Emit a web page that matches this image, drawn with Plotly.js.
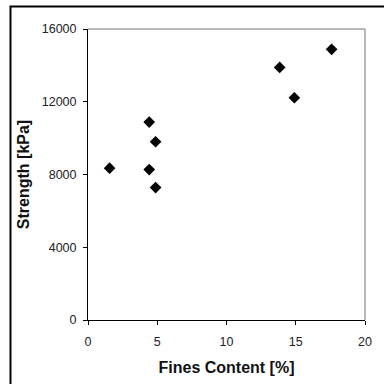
<!DOCTYPE html>
<html>
<head>
<meta charset="utf-8">
<script src="https://cdn.plot.ly/plotly-3.0.1.min.js"></script>
<style>html,body{margin:0;padding:0;background:#fff;}#chart{width:384px;height:384px;}</style>
</head>
<body>
<div id="chart"></div>
<script>
var finesContent = [1.56, 4.42, 4.88, 4.42, 4.88, 13.84, 14.9, 17.59];
var strength = [8350, 10880, 9800, 8270, 7280, 13890, 12220, 14880];
var xTickVals = [0, 5, 10, 15, 20];
var yTickVals = [0, 4000, 8000, 12000, 16000];

var trace = {
  x: finesContent,
  y: strength,
  type: 'scatter',
  mode: 'markers',
  marker: {symbol: 'diamond', size: 9, color: '#000'},
  hoverinfo: 'none'
};

var titleFont = {size: 16, color: '#111', family: 'Liberation Sans, Arial, sans-serif', weight: 'bold'};

var layout = {
  width: 384, height: 384,
  margin: {l: 88, r: 19, t: 29, b: 64},
  paper_bgcolor: '#fff', plot_bgcolor: '#fff',
  showlegend: false,
  font: {family: 'Liberation Sans, Arial, sans-serif', size: 12.5, color: '#222'},
  xaxis: {
    range: [0, 20], tickvals: xTickVals, ticktext: xTickVals.map(String),
    showgrid: false, zeroline: false, showline: true, linecolor: '#000', linewidth: 1,
    ticks: 'outside', ticklen: 4, tickcolor: '#000', ticklabelstandoff: 6,
    title: {text: 'Fines Content [%]', font: titleFont, standoff: 13}
  },
  yaxis: {
    range: [0, 16000], tickvals: yTickVals, ticktext: yTickVals.map(String),
    showgrid: false, zeroline: false, showline: true, linecolor: '#000', linewidth: 1,
    ticks: 'outside', ticklen: 4, tickcolor: '#000', ticklabelstandoff: 4,
    title: {text: 'Strength [kPa]', font: titleFont, standoff: 8}
  },
  shapes: [
    {type: 'line', xref: 'paper', yref: 'paper', x0: 0, x1: 1, y0: 1, y1: 1, line: {color: '#a0a0a0', width: 1.5}},
    {type: 'line', xref: 'paper', yref: 'paper', x0: 1, x1: 1, y0: 0, y1: 1, line: {color: '#a0a0a0', width: 1.5}},
    {type: 'rect', xref: 'paper', yref: 'paper', x0: -0.2798, x1: 1.2, y0: -0.4, y1: 1.0773, line: {color: '#000', width: 2}, fillcolor: 'rgba(0,0,0,0)'}
  ]
};

Plotly.newPlot('chart', [trace], layout, {staticPlot: true, displayModeBar: false});
</script>
</body>
</html>
